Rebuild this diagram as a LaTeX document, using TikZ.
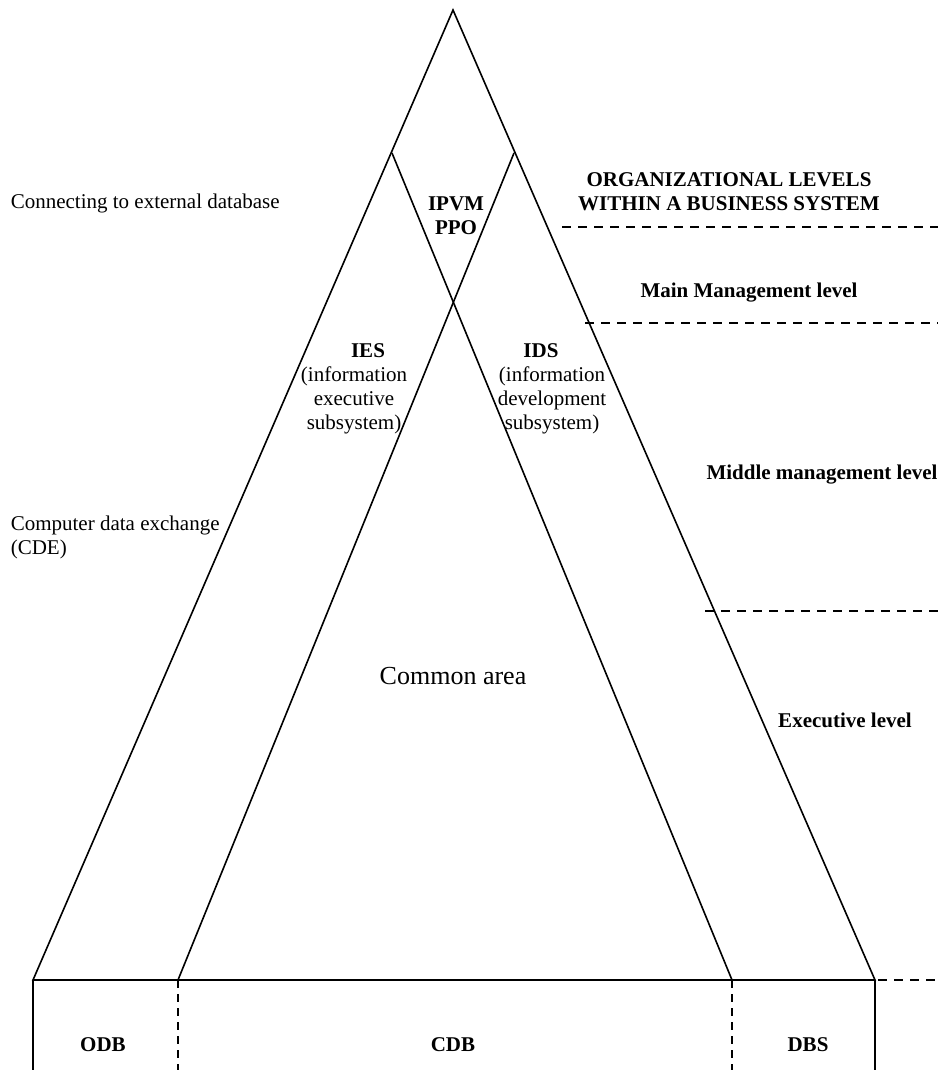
\documentclass[tikz,border=0pt]{standalone}
\usepackage{fontspec}
\setmainfont{Liberation Serif}
\usetikzlibrary{positioning}

\begin{document}
\begin{tikzpicture}[x=1pt,y=-1pt,line width=1.6pt,
    txt/.style={font=\fontsize{21}{24}\selectfont, align=center, inner sep=0pt},
    btxt/.style={txt, font=\fontsize{21}{24}\selectfont\bfseries},
    lvl/.style={dash pattern=on 9pt off 7pt},
    part/.style={dash pattern=on 8pt off 6pt}]
        \useasboundingbox (0,0) rectangle (938,1070);
        % pyramid
        \coordinate (top) at (453,10);
        \coordinate (bl) at (33,980);
        \coordinate (br) at (875,980);
        \coordinate (il) at (392,153);
        \coordinate (ir) at (514,153);
        \coordinate (ml) at (178,980);
        \coordinate (mr) at (732,980);
        \draw (top) -- (bl) -- (br) -- cycle;
        \draw (il) -- (mr);
        \draw (ir) -- (ml);
        % data bases
        \draw (bl) -- (33,1070);
        \draw (br) -- (875,1070);
        \draw[part] (ml) -- (178,1070);
        \draw[part] (mr) -- (732,1070);
        \node[btxt] (odb) at (103,1045) {ODB};
        \node[btxt] (cdb) at (453,1045) {CDB};
        \node[btxt] (dbs) at (808,1045) {DBS};
        % levels
        \draw[lvl] (562,227) -- (938,227);
        \draw[lvl] (585,323) -- (938,323);
        \draw[lvl] (705,611) -- (938,611);
        \draw[lvl] (878,980) -- (938,980);
        \node[btxt] (title) at (729,192) {ORGANIZATIONAL LEVELS\\WITHIN A BUSINESS SYSTEM};
        \node[btxt] (main) at (749,293) {Main Management level};
        \node[btxt] (middle) at (822,475) {Middle management level};
        \node[btxt] (exec) at (845,720) {Executive level};
        % areas
        \node[btxt] (ipvm) at (456,216) {IPVM\\PPO};
        \node[txt] (ies) at (354,389) {\hspace*{28pt}\textbf{IES}\\(information\\executive\\subsystem)};
        \node[txt] (ids) at (552,389) {\hspace*{-22pt}\textbf{IDS}\\(information\\development\\subsystem)};
        \node[txt, font=\fontsize{26}{30}\selectfont] (common) at (453,676) {Common area};
        % links
        \node[txt, anchor=west] (ext) at (10,203) {Connecting to external database};
        \node[txt, anchor=west, align=left] (cde) at (10,537) {Computer data exchange\\(CDE)};
    \end{tikzpicture}
\end{document}
